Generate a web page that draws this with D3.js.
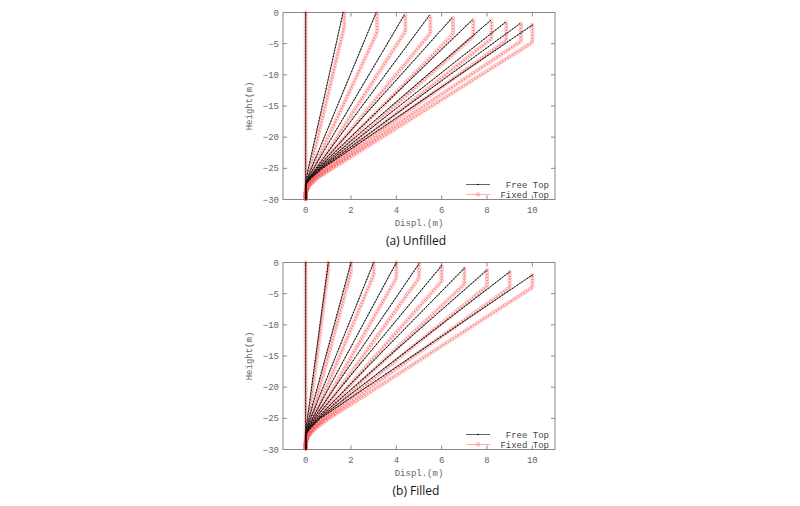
<!DOCTYPE html>
<html><head><meta charset="utf-8">
<script src="https://cdn.jsdelivr.net/npm/d3@7"></script>
<style>body{margin:0;background:#fff}</style>
</head><body>
<svg id="chart" width="800" height="506"></svg>
<script>
// Pile displacement profiles, free vs fixed top. Vertices;
// markers are laid along each rendered path.

// Free top: [top displacement, top height, x at -25 m]
const FREE_A = [[0,0,0],[1.65,0,0.12],[3.1,-0.1,0.25],[4.35,-0.4,0.35],[5.45,-0.5,0.45],[6.45,-0.9,0.5],
                [7.35,-1.2,0.55],[8.15,-1.3,0.6],[8.8,-1.6,0.65],[9.45,-1.8,0.7],[10,-2.0,0.75]];
// Fixed top: [displacement, top height, knee height, x at -25 m]
const FIXED_A = [[0,0,0,0],[1.7,0,-2.3,0.2],[3.15,-0.1,-3.2,0.35],[4.4,-0.4,-3.0,0.5],[5.5,-0.6,-3.3,0.6],
                 [6.5,-0.9,-3.5,0.7],[7.4,-1.2,-3.8,0.8],[8.2,-1.4,-4.2,0.9],[8.85,-1.6,-4.5,1.0],
                 [9.5,-1.8,-4.6,1.1],[10,-2.0,-4.8,1.2]];

const FREE_B = [[0,0,0],[1,0,0.08],[2,0,0.15],[3,0,0.22],[4,0,0.3],[5,-0.2,0.36],[6,-0.5,0.42],
                [7,-0.9,0.5],[8,-1.2,0.55],[9,-1.5,0.6],[10,-2.0,0.65]];
const FIXED_B = [[0,0,0,0],[1,0,-1.0,0.15],[2,0,-1.5,0.25],[3,0,-2.0,0.35],[4,0,-2.5,0.45],
                 [5,-0.3,-2.5,0.55],[6,-0.6,-3.0,0.65],[7,-1.0,-3.5,0.75],[8,-1.2,-3.8,0.85],
                 [9,-1.5,-4.0,0.95],[10,-2.0,-4.0,1.05]];

const X_TICKS = [0, 2, 4, 6, 8, 10];
const Y_TICKS = [0, -5, -10, -15, -20, -25, -30];

const PANELS = [
  { free: FREE_A, fixed: FIXED_A, top: 12.5, caption: "(a) Unfilled" },
  { free: FREE_B, fixed: FIXED_B, top: 262.5, caption: "(b) Filled" },
];

const svg = d3.select("#chart");
const L = 283, R = 555, H = 187;
const mono = "'Liberation Mono', 'DejaVu Sans Mono', monospace";

function freePts(c) {
  const [d, h, x25] = c;
  if (d === 0) return [[0, 0], [0, -30]];
  return [[d, h], [x25, -25], [x25 * 0.3, -26.6], [0, -27.6], [0, -30]];
}
function fixedPts(c) {
  const [d, h, k, x25] = c;
  if (d === 0) return [[0, 0], [0, -30]];
  return [[d, h], [d, k], [x25, -25], [x25 * 0.45, -26.5], [x25 * 0.12, -27.8], [0, -29], [0, -30]];
}

PANELS.forEach(p => {
  const x = d3.scaleLinear().domain([-1, 11]).range([L, R]);
  const y = d3.scaleLinear().domain([-30, 0]).range([p.top + H, p.top]);
  const g = svg.append("g");
  const line = d3.line().x(d => x(d[0])).y(d => y(d[1]));

  g.append("rect").attr("x", L).attr("y", p.top).attr("width", R - L).attr("height", H)
    .attr("fill", "none").attr("stroke", "#888").attr("stroke-width", 1);

  X_TICKS.forEach(t => {
    g.append("line").attr("x1", x(t)).attr("x2", x(t)).attr("y1", p.top + H).attr("y2", p.top + H - 4).attr("stroke", "#888");
    g.append("line").attr("x1", x(t)).attr("x2", x(t)).attr("y1", p.top).attr("y2", p.top + 4).attr("stroke", "#888");
    g.append("text").attr("x", x(t)).attr("y", p.top + H + 13).attr("text-anchor", "middle")
      .style("font", `9px ${mono}`).style("fill", "#666").text(t);
  });
  Y_TICKS.forEach(t => {
    g.append("line").attr("x1", L).attr("x2", L + 4).attr("y1", y(t)).attr("y2", y(t)).attr("stroke", "#888");
    g.append("line").attr("x1", R).attr("x2", R - 4).attr("y1", y(t)).attr("y2", y(t)).attr("stroke", "#888");
    g.append("text").attr("x", L - 4).attr("y", y(t) + 3).attr("text-anchor", "end")
      .style("font", `9px ${mono}`).style("fill", "#666").text(t === 0 ? "0" : "\u2212" + Math.abs(t));
  });
  g.append("text").attr("transform", `translate(252,${p.top + H / 2}) rotate(-90)`).attr("text-anchor", "middle")
    .style("font", `9px ${mono}`).style("fill", "#666").text("Height(m)");
  g.append("text").attr("x", (L + R) / 2).attr("y", p.top + H + 26).attr("text-anchor", "middle")
    .style("font", `9px ${mono}`).style("fill", "#666").text("Displ.(m)");
  g.append("text").attr("x", (L + R) / 2 - 3).attr("y", p.top + H + 45).attr("text-anchor", "middle")
    .style("font", "12px 'Open Sans', sans-serif").style("fill", "#111").text(p.caption);

  const marks = g.append("g");
  // fixed top (red, open circles)
  p.fixed.forEach(c => {
    const path = marks.append("path").attr("d", line(fixedPts(c))).attr("fill", "none")
      .attr("stroke", "#f77").attr("stroke-width", 0.6);
    const len = path.node().getTotalLength();
    for (let s = 0; s <= len; s += 3) {
      const pt = path.node().getPointAtLength(s);
      marks.append("circle").attr("cx", pt.x).attr("cy", pt.y).attr("r", 1.7)
        .attr("fill", "none").attr("stroke", "#f55").attr("stroke-width", 0.5).attr("opacity", 0.75);
    }
  });
  // free top (black, small dots)
  p.free.forEach(c => {
    const path = marks.append("path").attr("d", line(freePts(c))).attr("fill", "none")
      .attr("stroke", "#222").attr("stroke-width", 0.7);
    const len = path.node().getTotalLength();
    for (let s = 0; s <= len; s += 3) {
      const pt = path.node().getPointAtLength(s);
      marks.append("circle").attr("cx", pt.x).attr("cy", pt.y).attr("r", 0.6).attr("fill", "#000");
    }
  });

  // legend
  const ly = p.top + H - 15;
  g.append("line").attr("x1", 466).attr("x2", 490).attr("y1", ly).attr("y2", ly).attr("stroke", "#222").attr("stroke-width", 0.7);
  g.append("circle").attr("cx", 478).attr("cy", ly).attr("r", 0.8).attr("fill", "#000");
  g.append("text").attr("x", 549).attr("y", ly + 3).attr("text-anchor", "end")
    .style("font", `9px ${mono}`).style("fill", "#444").text("Free Top");
  g.append("line").attr("x1", 466).attr("x2", 490).attr("y1", ly + 10).attr("y2", ly + 10).attr("stroke", "#f77").attr("stroke-width", 0.6);
  g.append("circle").attr("cx", 478).attr("cy", ly + 10).attr("r", 1.7).attr("fill", "none").attr("stroke", "#f55").attr("stroke-width", 0.5);
  g.append("text").attr("x", 549).attr("y", ly + 13).attr("text-anchor", "end")
    .style("font", `9px ${mono}`).style("fill", "#444").text("Fixed Top");
});
</script>
</body></html>
